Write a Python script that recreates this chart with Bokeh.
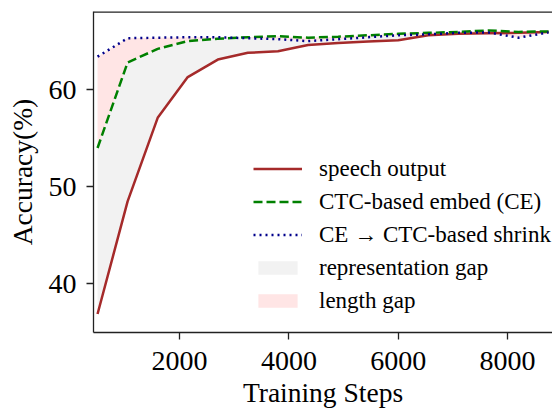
from bokeh.plotting import figure
from bokeh.models import Legend, LegendItem, Span
from bokeh.embed import file_html
from bokeh.resources import INLINE

steps = [500, 1050, 1600, 2150, 2700, 3250, 3800, 4350, 4900, 5450, 6000, 6550, 7100, 7650, 8200, 8750]
speech_output = [36.9, 48.5, 57.1, 61.3, 63.1, 63.8, 63.95, 64.6, 64.8, 64.95, 65.1, 65.6, 65.75, 65.8, 65.85, 65.95]
ctc_embed = [54.0, 62.8, 64.2, 65.0, 65.25, 65.4, 65.5, 65.35, 65.45, 65.6, 65.75, 65.85, 65.95, 66.1, 65.95, 66.0]
ctc_shrink = [63.4, 65.3, 65.35, 65.4, 65.4, 65.3, 65.2, 65.0, 65.2, 65.4, 65.6, 65.7, 65.85, 65.9, 65.35, 65.9]
x_ticks = [2000, 4000, 6000, 8000]
y_ticks = [40, 50, 60]

FONT = "Liberation Serif"

p = figure(width=552, height=410, output_backend="svg", toolbar_location=None,
           x_range=(426, 8822), y_range=(35.0, 68.05),
           min_border_left=93, min_border_right=0, min_border_top=11, min_border_bottom=76)
p.outline_line_color = None
p.grid.visible = False
p.background_fill_color = "white"

rep = p.varea(x=steps, y1=speech_output, y2=ctc_embed, fill_color="#f2f2f2")
lg = p.varea(x=steps, y1=ctc_embed, y2=ctc_shrink, fill_color="#ffe5e5")
l1 = p.line(steps, speech_output, line_color="#a52a2a", line_width=2.5)
l2 = p.line(steps, ctc_embed, line_color="#008000", line_width=2.5, line_dash="9 4")
l3 = p.line(steps, ctc_shrink, line_color="#00008b", line_width=2.5, line_dash="2 4")

top = Span(location=68.05, dimension="width", line_color="#222222", line_width=2.5)
p.add_layout(top)

for ax in (p.xaxis[0], p.yaxis[0]):
    ax.axis_line_color = "#222222"
    ax.axis_line_width = 1.3
    ax.major_tick_line_color = "#222222"
    ax.major_tick_line_width = 1.3
    ax.major_tick_in = 0
    ax.major_tick_out = 7
    ax.minor_tick_line_color = None
    ax.major_label_text_font = FONT
    ax.major_label_text_font_size = "28px"
    ax.major_label_text_color = "black"
    ax.axis_label_text_font = FONT
    ax.axis_label_text_font_size = "27.5px"
    ax.axis_label_text_font_style = "normal"
    ax.axis_label_text_color = "black"

p.xaxis[0].ticker = x_ticks
p.yaxis[0].ticker = y_ticks
p.xaxis[0].axis_label = "Training Steps"
p.yaxis[0].axis_label = "Accuracy(%)"
p.xaxis[0].major_label_standoff = 12
p.yaxis[0].major_label_standoff = 10
p.xaxis[0].axis_label_standoff = 4
p.yaxis[0].axis_label_standoff = 8

legend = Legend(items=[
    LegendItem(label="speech output", renderers=[l1]),
    LegendItem(label="CTC-based embed (CE)", renderers=[l2]),
    LegendItem(label="CE \u2192 CTC-based shrink", renderers=[l3]),
    LegendItem(label="representation gap", renderers=[rep]),
    LegendItem(label="length gap", renderers=[lg]),
], location=(160, 15))
legend.border_line_color = None
legend.background_fill_alpha = 0
legend.padding = 0
legend.margin = 0
legend.spacing = 0
legend.glyph_width = 49
legend.glyph_height = 17
legend.label_height = 33
legend.label_standoff = 17
legend.label_text_font = FONT
legend.label_text_font_size = "23px"
legend.label_text_color = "black"
p.add_layout(legend)

open("out.html", "w").write(file_html(p, INLINE))
